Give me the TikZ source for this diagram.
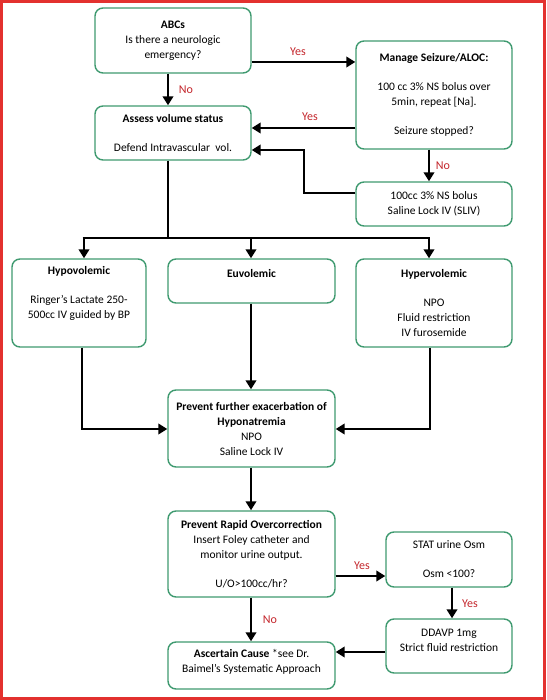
\documentclass[tikz,border=0pt]{standalone}
\usepackage{fontspec}
\setmainfont{Carlito}
\usetikzlibrary{arrows.meta}
\definecolor{boxgreen}{HTML}{3F9A70}
\definecolor{lblred}{HTML}{C4262C}
\definecolor{framered}{HTML}{E3312F}
\begin{document}
\begin{tikzpicture}[x=1pt,y=-1pt,
  box/.style={draw=boxgreen,line width=1.4pt,rounded corners=8pt,align=center,
    inner sep=0pt,font=\fontsize{11.5}{15}\selectfont},
  arr/.style={line width=2.9pt,-{Triangle[length=9pt,width=10.5pt]}},
  conn/.style={line width=2.9pt},
  lbl/.style={text=lblred,font=\fontsize{12}{14}\selectfont}]
\useasboundingbox (0,0) rectangle (546,700);
\fill[white] (0,0) rectangle (546,700);
\draw[framered,line width=3pt] (1.5,1.5) rectangle (544.5,698.5);

\node[box,minimum width=156pt,minimum height=65pt] (abc) at (173,40.5)
  {\textbf{ABCs}\\Is there a neurologic\\emergency?};
\node[box,minimum width=156pt,minimum height=108pt] (seiz) at (434,95)
  {\textbf{Manage Seizure/ALOC:}\\[14pt]100 cc 3\% NS bolus over\\5min, repeat [Na].\\[14pt]Seizure stopped?};
\node[box,minimum width=156pt,minimum height=54pt] (assess) at (173,133)
  {\textbf{Assess volume status}\\[14pt]Defend Intravascular\ \ vol.};
\node[box,minimum width=156pt,minimum height=44pt] (bolus) at (434,204)
  {100cc 3\% NS bolus\\Saline Lock IV (SLIV)};
\node[box,minimum width=134pt,minimum height=88pt] (hypo) at (79,303)
  {\textbf{Hypovolemic}\\[14pt]Ringer's Lactate 250-\\500cc IV guided by BP\\[6pt]\mbox{}};
\node[box,minimum width=167pt,minimum height=44pt] (euvo) at (251.5,281)
  {\textbf{Euvolemic}\\\mbox{}};
\node[box,minimum width=156pt,minimum height=88pt] (hyper) at (434,303)
  {\textbf{Hypervolemic}\\[14pt]NPO\\Fluid restriction\\IV furosemide};
\node[box,minimum width=167pt,minimum height=77pt] (prev) at (251.5,428.5)
  {\textbf{Prevent further exacerbation of}\\\textbf{Hyponatremia}\\NPO\\Saline Lock IV};
\node[box,minimum width=167pt,minimum height=86pt] (rapid) at (251.5,554)
  {\textbf{Prevent Rapid Overcorrection}\\Insert Foley catheter and\\monitor urine output.\\[14pt]U/O>100cc/hr?};
\node[box,minimum width=126pt,minimum height=55pt] (stat) at (449,559.5)
  {STAT urine Osm\\[14pt]Osm <100?};
\node[box,minimum width=126pt,minimum height=54pt] (ddavp) at (449,646)
  {DDAVP 1mg\\Strict fluid restriction\\[-4pt]\mbox{}};
\node[box,minimum width=167pt,minimum height=47pt] (cause) at (251.5,665.5)
  {\textbf{Ascertain Cause} *see Dr.\\Baimel's Systematic Approach\\[-6pt]\mbox{}};

% coordinates for connector bends
\coordinate (c1) at (251,62);
\coordinate (c2) at (168,90);
\coordinate (c3) at (300,128);
\coordinate (c4) at (429,166);
\coordinate (b1) at (304,193);
\coordinate (b2) at (304,150);
\coordinate (sA) at (168,238);
\coordinate (sL) at (84,238);
\coordinate (sM) at (251,238);
\coordinate (sR) at (429,238);
\coordinate (h1) at (82,429);
\coordinate (h2) at (430,429);
\coordinate (r1) at (360,576);
\coordinate (r2) at (452,600);
\coordinate (d1) at (360,652);

\draw[arr] (abc.east |- c1) -- (seiz.west |- c1);
\node[lbl] at (298,52) {Yes};
\draw[arr] (abc.south -| c2) -- (assess.north -| c2);
\node[lbl] at (186,90) {No};
\draw[arr] (seiz.west |- c3) -- (assess.east |- c3);
\node[lbl] at (310,117) {Yes};
\draw[arr] (seiz.south -| c4) -- (bolus.north -| c4);
\node[lbl] at (443,166) {No};
\draw[arr] (bolus.west |- b1) -- (b1) -- (b2) -- (assess.east |- b2);

\draw[conn] (assess.south -| sA) -- (sA);
\draw[conn] ([xshift=-1.45pt]sL) -- ([xshift=1.45pt]sR);
\draw[arr] (sL) -- (hypo.north -| sL);
\draw[arr] (sM) -- (euvo.north -| sM);
\draw[arr] (sR) -- (hyper.north -| sR);

\draw[arr] (euvo.south -| sM) -- (prev.north -| sM);
\draw[arr] (hypo.south -| h1) -- (h1) -- (prev.west |- h1);
\draw[arr] (hyper.south -| h2) -- (h2) -- (prev.east |- h2);

\draw[arr] (prev.south -| sM) -- (rapid.north -| sM);
\draw[arr] (rapid.east |- r1) -- (stat.west |- r1);
\node[lbl] at (362,566) {Yes};
\draw[arr] (stat.south -| r2) -- (ddavp.north -| r2);
\node[lbl] at (470,604) {Yes};
\draw[arr] (ddavp.west |- d1) -- (cause.east |- d1);
\draw[arr] (rapid.south -| sM) -- (cause.north -| sM);
\node[lbl] at (270,620) {No};
\end{tikzpicture}
\end{document}
